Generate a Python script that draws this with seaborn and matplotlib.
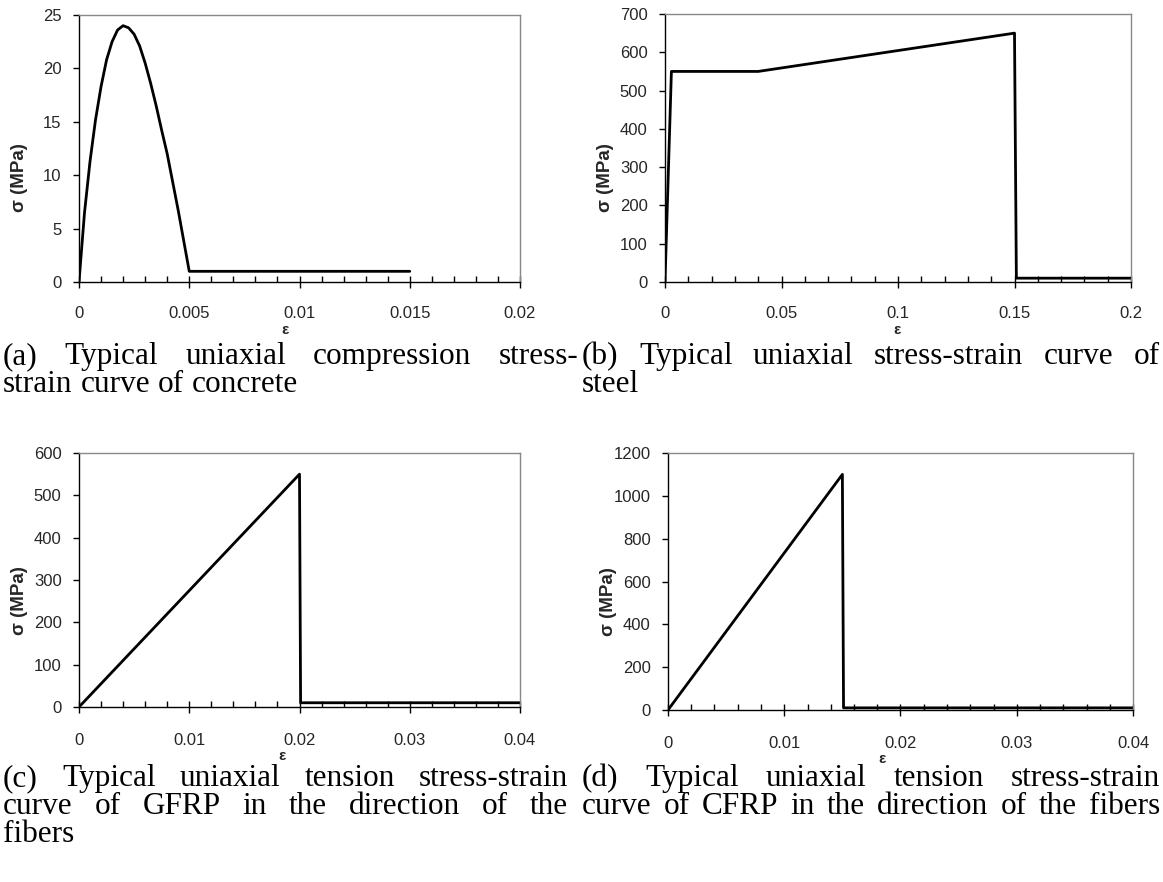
import pandas as pd
import seaborn as sns
import matplotlib.pyplot as plt
from matplotlib.ticker import MultipleLocator, FuncFormatter

# стиснення бетону
conc_eps = [0, 0.00025, 0.0005, 0.00075, 0.001, 0.00125, 0.0015, 0.00175, 0.002,
            0.00225, 0.0025, 0.00275, 0.003, 0.00325, 0.0035, 0.00375, 0.004,
            0.0045, 0.005, 0.015]
conc_sig = [0, 6.5, 11.3, 15.2, 18.3, 20.8, 22.5, 23.6, 24.0,
            23.8, 23.2, 22.1, 20.5, 18.6, 16.5, 14.2, 12.0,
            6.7, 1.0, 1.0]

# сталь
steel_eps = [0, 0.00275, 0.04, 0.15, 0.1508, 0.2]
steel_sig = [0, 550, 550, 650, 10, 10]

# GFRP
gfrp_eps = [0, 0.02, 0.0201, 0.04]
gfrp_sig = [0, 550, 10, 10]

# CFRP
cfrp_eps = [0, 0.015, 0.0151, 0.04]
cfrp_sig = [0, 1100, 10, 10]

captions = {
    "a": [("(a) Typical uniaxial compression stress-", True),
          ("strain curve of concrete", False)],
    "b": [("(b) Typical uniaxial stress-strain curve of", True),
          ("steel", False)],
    "c": [("(c) Typical uniaxial tension stress-strain", True),
          ("curve of GFRP in the direction of the", True),
          ("fibers", False)],
    "d": [("(d) Typical uniaxial tension stress-strain", True),
          ("curve of CFRP in the direction of the fibers", True)],
}

W, H = 1163, 882
sns.set_theme(style="white")
plt.rcParams["font.family"] = ["Liberation Sans", "DejaVu Sans"]

fig = plt.figure(figsize=(W / 100, H / 100), dpi=100)


def px_axes(x0, y0, x1, y1):
    return fig.add_axes([x0 / W, 1 - y1 / H, (x1 - x0) / W, (y1 - y0) / H])


panels = [
    # box in px, data, xlim, ylim, x major, x minor, y major, xlabel x, ylabel y, tick pad, xlabel y
    ((79, 15, 520, 282), conc_eps, conc_sig, 0.02, 25, 0.005, 0.001, 5, 0.467, 0.39, 13, -0.154),
    ((665, 14, 1131, 282), steel_eps, steel_sig, 0.2, 700, 0.05, 0.01, 100, 0.498, 0.39, 13, -0.154),
    ((79, 453, 520, 707), gfrp_eps, gfrp_sig, 0.04, 600, 0.01, 0.002, 100, 0.46, 0.42, 15, -0.165),
    ((668, 453, 1133, 710), cfrp_eps, cfrp_sig, 0.04, 1200, 0.01, 0.002, 200, 0.46, 0.42, 15, -0.165),
]

fmt = FuncFormatter(lambda v, p: "%g" % round(v, 6))

for box, xs, ys, xmax, ymax, xmaj, xmin, ymaj, xl, yl, tpad, xly in panels:
    ax = px_axes(*box)
    df = pd.DataFrame({"eps": xs, "sig": ys})
    sns.lineplot(data=df, x="eps", y="sig", sort=False, color="black",
                 linewidth=2.0, ax=ax)
    ax.set_xlim(0, xmax)
    ax.set_ylim(0, ymax)
    ax.xaxis.set_major_locator(MultipleLocator(xmaj))
    ax.xaxis.set_minor_locator(MultipleLocator(xmin))
    ax.yaxis.set_major_locator(MultipleLocator(ymaj))
    ax.xaxis.set_major_formatter(fmt)
    ax.yaxis.set_major_formatter(fmt)
    ax.tick_params(axis="x", which="major", direction="inout", length=8,
                   width=1, color="black", labelsize=12, pad=tpad, bottom=True)
    ax.tick_params(axis="x", which="minor", direction="in", length=4,
                   width=1, color="black", bottom=True)
    ax.tick_params(axis="y", which="major", direction="out", length=4.5,
                   width=1, color="black", labelsize=12, pad=8, left=True)
    for s in ["top", "right"]:
        ax.spines[s].set_color("#888888")
        ax.spines[s].set_linewidth(1)
    for s in ["left", "bottom"]:
        ax.spines[s].set_color("black")
        ax.spines[s].set_linewidth(1)
    ax.set_xlabel("ε", fontsize=11, fontweight="bold")
    ax.set_ylabel("σ (MPa)", fontsize=13.5, fontweight="bold")
    w = box[2] - box[0]
    ax.yaxis.set_label_coords(-51 / w, yl)
    ax.xaxis.set_label_coords(xl, xly)

# підписи під графіками, вирівняні по ширині
renderer = fig.canvas.get_renderer()
cap_size = 22.5


def caption(lines, x0, x1, y0, dy):
    space = 0.25 * cap_size * 100 / 72
    for i, (line, just) in enumerate(lines):
        y = y0 + i * dy
        words = line.split()
        texts = [fig.text(0, 0, wd, fontsize=cap_size, family="Liberation Serif",
                          va="baseline", ha="left", color="black") for wd in words]
        widths = [t.get_window_extent(renderer).width for t in texts]
        gap = space
        if just and len(words) > 1:
            gap = (x1 - x0 - sum(widths)) / (len(words) - 1)
        x = x0
        for t, wd in zip(texts, widths):
            t.set_position((x / W, 1 - y / H))
            x += wd + gap


caption(captions["a"], 3, 578, 364, 28)
caption(captions["b"], 582, 1160, 364, 28)
caption(captions["c"], 3, 568, 786, 28)
caption(captions["d"], 582, 1160, 786, 28)

fig.savefig("out.png", dpi=100)
